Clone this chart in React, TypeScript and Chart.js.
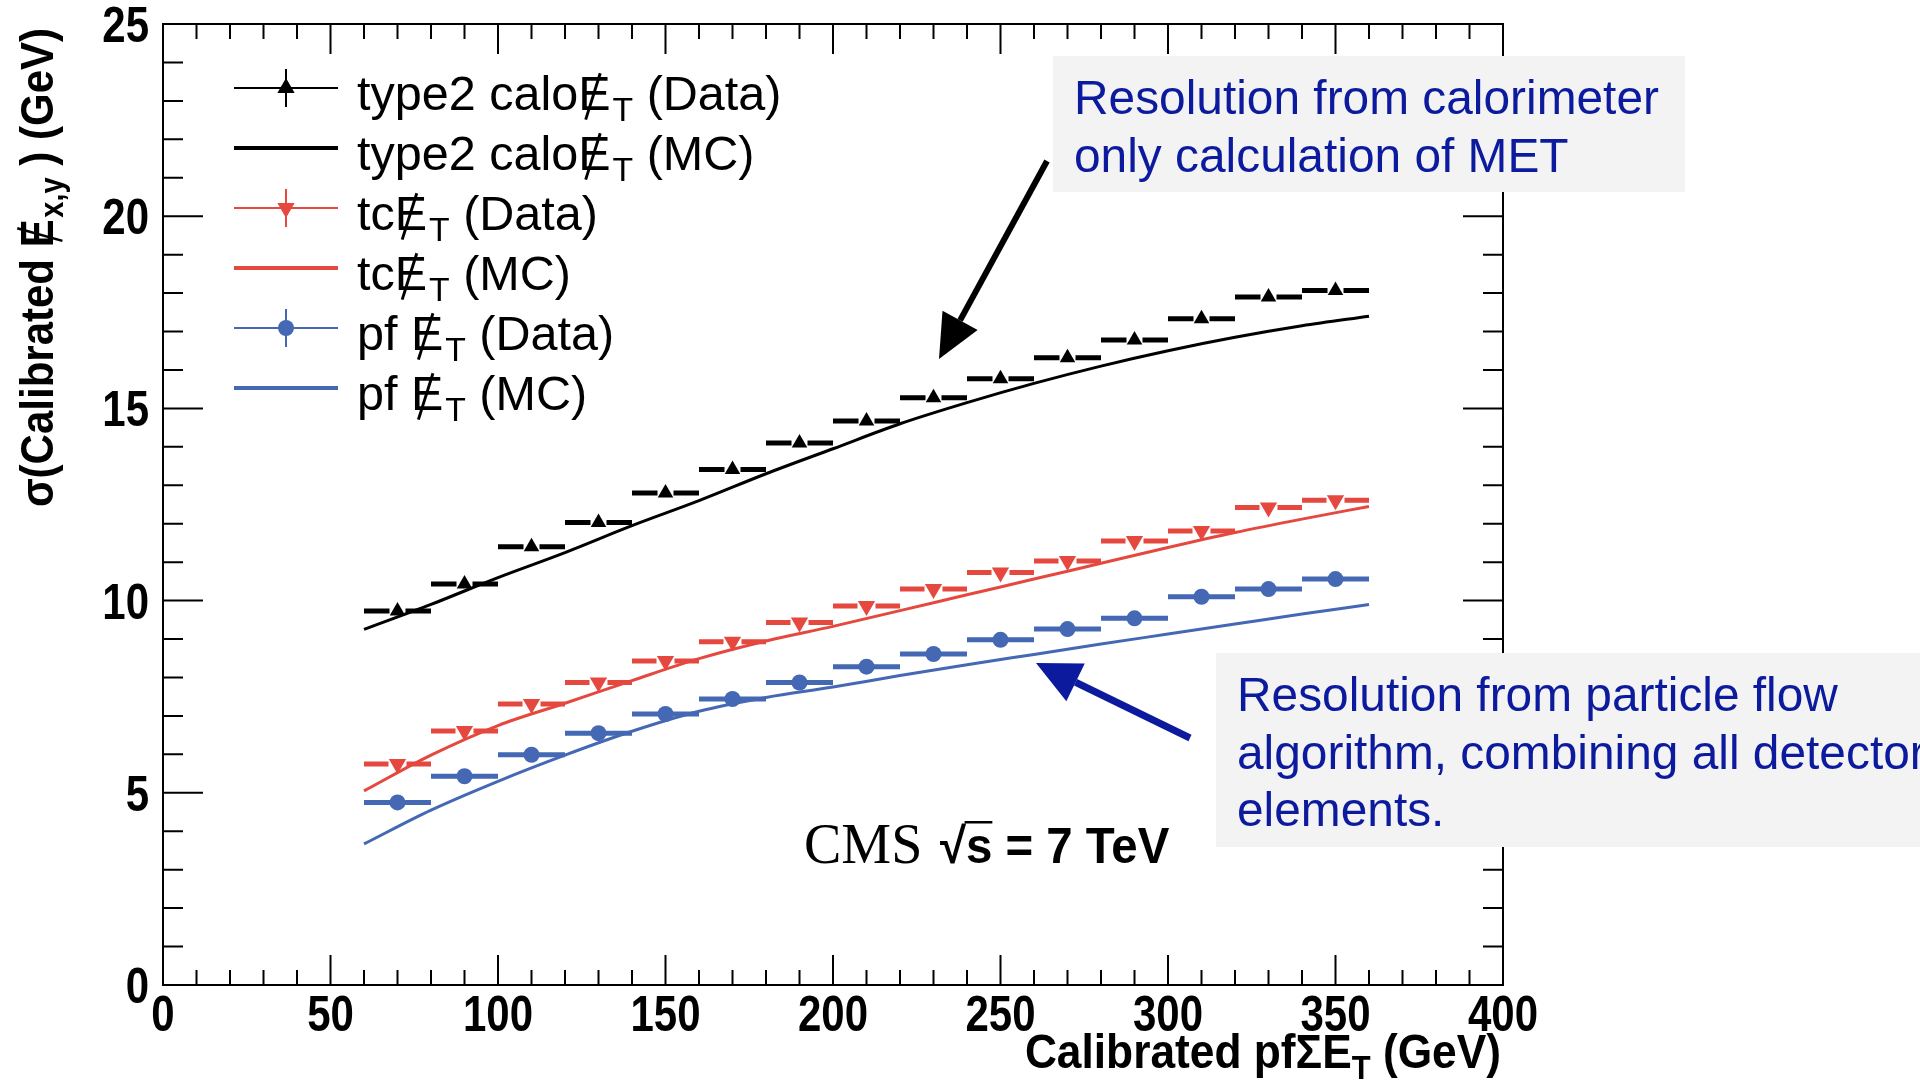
import React, { useEffect, useRef } from "react";
import { Chart, registerables } from "chart.js";

Chart.register(...registerables);

// ---------------- data ----------------
const binCenters = [70, 90, 110, 130, 150, 170, 190, 210, 230, 250, 270, 290, 310, 330, 350];
const binHalfWidth = 10;
const caloData = [9.73, 10.43, 11.4, 12.03, 12.8, 13.41, 14.1, 14.67, 15.28, 15.77, 16.32, 16.78, 17.33, 17.9, 18.07];
const tcData = [5.75, 6.61, 7.31, 7.87, 8.43, 8.93, 9.43, 9.86, 10.3, 10.73, 11.03, 11.55, 11.81, 12.42, 12.61];
const pfData = [4.75, 5.43, 5.99, 6.55, 7.05, 7.44, 7.87, 8.28, 8.61, 8.98, 9.26, 9.54, 10.1, 10.3, 10.56];

const mcX = [60, 80, 100, 120, 140, 160, 180, 200, 220, 240, 260, 280, 300, 320, 340, 360];
const caloMC = [9.25, 9.9, 10.6, 11.25, 11.95, 12.6, 13.3, 13.95, 14.6, 15.15, 15.65, 16.1, 16.5, 16.85, 17.15, 17.4];
const tcMC = [5.05, 5.98, 6.75, 7.33, 7.92, 8.49, 8.95, 9.33, 9.74, 10.15, 10.56, 10.97, 11.38, 11.77, 12.12, 12.45];
const pfMC = [3.67, 4.55, 5.3, 5.98, 6.6, 7.12, 7.48, 7.75, 8.05, 8.33, 8.6, 8.87, 9.13, 9.39, 9.65, 9.9];

const xMin = 0, xMax = 400, yMin = 0, yMax = 25;
const xMajorTicks = [0, 50, 100, 150, 200, 250, 300, 350, 400];
const xMinorStep = 10;
const yMajorTicks = [0, 5, 10, 15, 20, 25];
const yMinorStep = 1;

const annotationTop = ["Resolution from calorimeter", "only calculation of MET"];
const annotationBottom = ["Resolution from particle flow", "algorithm, combining all detector", "elements."];

// ---------------- styles ----------------
const BLACK = "#000000";
const RED = "rgb(229,72,62)";
const BLUE = "rgb(68,104,180)";
const NAVY = "rgb(12,26,158)";
const SANS = "'Liberation Sans', Arial, Helvetica, sans-serif";
const SERIF = "'Liberation Serif', 'Times New Roman', serif";

type Part = { t: string; sub?: boolean; slash?: boolean; over?: boolean };

function drawParts(
  ctx: CanvasRenderingContext2D,
  parts: Part[],
  x: number,
  y: number,
  size: number,
  weight: string,
  color: string,
  align: "left" | "right" | "center" = "left",
  sx = 1,
  sy = 1
) {
  ctx.save();
  ctx.fillStyle = color;
  ctx.strokeStyle = color;
  ctx.textBaseline = "alphabetic";
  ctx.textAlign = "left";
  const fMain = `${weight} ${size}px ${SANS}`;
  const fSub = `${weight} ${Math.round(size * 0.7)}px ${SANS}`;
  const widths = parts.map((p) => {
    ctx.font = p.sub ? fSub : fMain;
    return ctx.measureText(p.t).width + (p.slash ? size * 0.04 : 0);
  });
  const w = widths.reduce((a, b) => a + b, 0);
  ctx.translate(x, y);
  ctx.scale(sx, sy);
  let cx = align === "left" ? 0 : align === "right" ? -w : -w / 2;
  parts.forEach((p, i) => {
    ctx.font = p.sub ? fSub : fMain;
    const dy = p.sub ? size * 0.22 : 0;
    ctx.fillText(p.t, cx, dy);
    if (p.slash) {
      const mid = cx + widths[i] / 2;
      ctx.lineWidth = size * 0.06;
      ctx.beginPath();
      ctx.moveTo(mid - size * 0.2, size * 0.2);
      ctx.lineTo(mid + size * 0.1, -size * 0.76);
      ctx.stroke();
    }
    if (p.over) {
      ctx.lineWidth = size * 0.05;
      ctx.beginPath();
      ctx.moveTo(cx - size * 0.03, -size * 0.82);
      ctx.lineTo(cx + widths[i], -size * 0.82);
      ctx.stroke();
    }
    cx += widths[i];
  });
  ctx.restore();
  return w * sx;
}

function drawMarker(ctx: CanvasRenderingContext2D, kind: string, x: number, y: number, r: number, color: string) {
  ctx.save();
  ctx.fillStyle = color;
  ctx.beginPath();
  if (kind === "circle") {
    ctx.arc(x, y, r, 0, Math.PI * 2);
  } else {
    const s = kind === "down" ? -1 : 1;
    ctx.moveTo(x, y - s * r);
    ctx.lineTo(x + r * 0.866, y + s * r * 0.5);
    ctx.lineTo(x - r * 0.866, y + s * r * 0.5);
    ctx.closePath();
  }
  ctx.fill();
  ctx.restore();
}

function drawArrow(
  ctx: CanvasRenderingContext2D,
  x0: number, y0: number, x1: number, y1: number,
  w: number, headLen: number, headW: number, color: string
) {
  const ang = Math.atan2(y1 - y0, x1 - x0);
  const bx = x1 - headLen * Math.cos(ang);
  const by = y1 - headLen * Math.sin(ang);
  ctx.save();
  ctx.strokeStyle = color;
  ctx.fillStyle = color;
  ctx.lineWidth = w;
  ctx.beginPath();
  ctx.moveTo(x0, y0);
  ctx.lineTo(bx, by);
  ctx.stroke();
  ctx.beginPath();
  ctx.moveTo(x1, y1);
  ctx.lineTo(bx + headW * Math.sin(ang), by - headW * Math.cos(ang));
  ctx.lineTo(bx - headW * Math.sin(ang), by + headW * Math.cos(ang));
  ctx.closePath();
  ctx.fill();
  ctx.restore();
}

const E_T = (prefix: string, suffix: string): Part[] => [
  { t: prefix },
  { t: "E", slash: true },
  { t: "T", sub: true },
  { t: suffix },
];

const legendEntries = [
  { parts: E_T("type2 calo", " (Data)"), color: BLACK, data: true, marker: "up" },
  { parts: E_T("type2 calo", " (MC)"), color: BLACK, data: false, marker: "" },
  { parts: E_T("tc", " (Data)"), color: RED, data: true, marker: "down" },
  { parts: E_T("tc", " (MC)"), color: RED, data: false, marker: "" },
  { parts: E_T("pf ", " (Data)"), color: BLUE, data: true, marker: "circle" },
  { parts: E_T("pf ", " (MC)"), color: BLUE, data: false, marker: "" },
];

const dataSeries = [
  { values: caloData, color: BLACK, gap: 8 },
  { values: tcData, color: RED, gap: 9 },
  { values: pfData, color: BLUE, gap: 7 },
];

function tallText(ctx: CanvasRenderingContext2D, t: string, x: number, y: number, sy: number) {
  ctx.save();
  ctx.translate(x, y);
  ctx.scale(1, sy);
  ctx.fillText(t, 0, 0);
  ctx.restore();
}

const rootPlugin = {
  id: "rootStyle",
  beforeDatasetsDraw(chart: any) {
    const ctx: CanvasRenderingContext2D = chart.ctx;
    const xs = chart.scales.x;
    const ys = chart.scales.y;
    ctx.save();
    ctx.lineCap = "butt";
    dataSeries.forEach((s) => {
      ctx.strokeStyle = s.color;
      ctx.lineWidth = 5;
      binCenters.forEach((c, i) => {
        const y = ys.getPixelForValue(s.values[i]);
        const x0 = xs.getPixelForValue(c - binHalfWidth);
        const x1 = xs.getPixelForValue(c + binHalfWidth);
        const xc = xs.getPixelForValue(c);
        ctx.beginPath();
        ctx.moveTo(x0, y);
        ctx.lineTo(xc - s.gap, y);
        ctx.moveTo(xc + s.gap, y);
        ctx.lineTo(x1, y);
        ctx.stroke();
      });
    });
    ctx.restore();
  },
  afterDraw(chart: any) {
    const ctx: CanvasRenderingContext2D = chart.ctx;
    const xs = chart.scales.x;
    const ys = chart.scales.y;
    const { left, right, top, bottom } = chart.chartArea;
    ctx.save();

    // frame
    ctx.strokeStyle = BLACK;
    ctx.lineWidth = 2;
    ctx.strokeRect(left, top, right - left, bottom - top);

    // x ticks
    ctx.lineWidth = 2;
    for (let v = xMin; v <= xMax; v += xMinorStep) {
      const px = xs.getPixelForValue(v);
      const major = xMajorTicks.includes(v);
      const len = major ? 30 : 15;
      ctx.beginPath();
      ctx.moveTo(px, bottom);
      ctx.lineTo(px, bottom - len);
      ctx.moveTo(px, top);
      ctx.lineTo(px, top + len);
      ctx.stroke();
    }
    // y ticks
    for (let v = yMin; v <= yMax; v += yMinorStep) {
      const py = ys.getPixelForValue(v);
      const major = yMajorTicks.includes(v);
      const len = major ? 40 : 20;
      ctx.beginPath();
      ctx.moveTo(left, py);
      ctx.lineTo(left + len, py);
      ctx.moveTo(right, py);
      ctx.lineTo(right - len, py);
      ctx.stroke();
    }

    // tick labels
    ctx.fillStyle = BLACK;
    ctx.font = `bold 42px ${SANS}`;
    ctx.textBaseline = "alphabetic";
    ctx.textAlign = "center";
    xMajorTicks.forEach((v) => {
      tallText(ctx, String(v), xs.getPixelForValue(v), bottom + 46, 1.18);
    });
    ctx.textAlign = "right";
    yMajorTicks.forEach((v) => {
      tallText(ctx, String(v), left - 14, ys.getPixelForValue(v) + 18, 1.18);
    });

    // axis titles
    drawParts(ctx, [{ t: "Calibrated pfΣE" }, { t: "T", sub: true }, { t: " (GeV)" }], right - 2, bottom + 83, 43, "bold", BLACK, "right", 1.03, 1.12);
    ctx.save();
    ctx.translate(53, 28);
    ctx.rotate(-Math.PI / 2);
    drawParts(ctx, [{ t: "σ(Calibrated " }, { t: "E", slash: true }, { t: "x,y", sub: true }, { t: " ) (GeV)" }], 0, 0, 42, "bold", BLACK, "right", 1, 1.12);
    ctx.restore();

    // legend
    legendEntries.forEach((e, i) => {
      const ry = 88 + 60 * i;
      ctx.save();
      ctx.strokeStyle = e.color;
      ctx.lineWidth = e.data ? 2 : 4;
      ctx.beginPath();
      ctx.moveTo(234, ry);
      ctx.lineTo(338, ry);
      ctx.stroke();
      if (e.data) {
        ctx.beginPath();
        ctx.moveTo(286, ry - 19);
        ctx.lineTo(286, ry + 19);
        ctx.stroke();
        drawMarker(ctx, e.marker, 286, ry, e.marker === "circle" ? 8 : 10, e.color);
      }
      ctx.restore();
      drawParts(ctx, e.parts, 357, ry + 22, 46, "normal", BLACK, "left", 1.055, 1.05);
    });

    // CMS label
    ctx.fillStyle = BLACK;
    ctx.font = `56px ${SERIF}`;
    ctx.textAlign = "left";
    ctx.fillText("CMS", 804, 863);
    drawParts(ctx, [{ t: "√" }, { t: "s", over: true }, { t: " = 7 TeV" }], 940, 863, 46, "bold", BLACK, "left", 1.03, 1.08);

    // arrows
    drawArrow(ctx, 1047, 161, 939, 359, 6, 44, 20, BLACK);
    drawArrow(ctx, 1190, 738, 1036, 663, 7, 44, 21, NAVY);

    // annotation boxes
    ctx.fillStyle = "#f3f3f3";
    ctx.fillRect(1053, 56, 632, 136);
    ctx.fillRect(1216, 653, 704, 194);
    annotationTop.forEach((line, i) => {
      drawParts(ctx, [{ t: line }], 1074, 114 + 58 * i, 46, "normal", NAVY, "left", 1.04, 1.04);
    });
    annotationBottom.forEach((line, i) => {
      drawParts(ctx, [{ t: line }], 1237, 711 + 57.5 * i, 46, "normal", NAVY, "left", 1.04, 1.04);
    });

    ctx.restore();
  },
};

export default function App() {
  const canvasRef = useRef<HTMLCanvasElement | null>(null);

  useEffect(() => {
    document.body.style.margin = "0";
    document.body.style.background = "#ffffff";
    const canvas = canvasRef.current;
    if (!canvas) return;
    const pts = (xs: number[], ys: number[]) => xs.map((x, i) => ({ x, y: ys[i] }));

    const chart = new Chart(canvas, {
      type: "line",
      data: {
        datasets: [
          {
            label: "calo MC",
            data: pts(mcX, caloMC),
            borderColor: BLACK,
            borderWidth: 3,
            pointRadius: 0,
            cubicInterpolationMode: "monotone",
            fill: false,
            order: 5,
          },
          {
            label: "tc MC",
            data: pts(mcX, tcMC),
            borderColor: RED,
            borderWidth: 3,
            pointRadius: 0,
            cubicInterpolationMode: "monotone",
            fill: false,
            order: 5,
          },
          {
            label: "pf MC",
            data: pts(mcX, pfMC),
            borderColor: BLUE,
            borderWidth: 3,
            pointRadius: 0,
            cubicInterpolationMode: "monotone",
            fill: false,
            order: 5,
          },
          {
            label: "calo Data",
            data: pts(binCenters, caloData),
            showLine: false,
            pointStyle: "triangle",
            pointRadius: 9,
            pointBackgroundColor: BLACK,
            pointBorderColor: BLACK,
            pointBorderWidth: 0,
            order: 1,
          },
          {
            label: "tc Data",
            data: pts(binCenters, tcData),
            showLine: false,
            pointStyle: "triangle",
            rotation: 180,
            pointRadius: 10,
            pointBackgroundColor: RED,
            pointBorderColor: RED,
            pointBorderWidth: 0,
            order: 1,
          },
          {
            label: "pf Data",
            data: pts(binCenters, pfData),
            showLine: false,
            pointStyle: "circle",
            pointRadius: 8,
            pointBackgroundColor: BLUE,
            pointBorderColor: BLUE,
            pointBorderWidth: 0,
            order: 1,
          },
        ],
      },
      options: {
        responsive: false,
        animation: false,
        devicePixelRatio: 1,
        layout: { padding: { left: 163, right: 417, top: 24, bottom: 101 } },
        scales: {
          x: { type: "linear", min: xMin, max: xMax, display: false },
          y: { type: "linear", min: yMin, max: yMax, display: false },
        },
        plugins: {
          legend: { display: false },
          tooltip: { enabled: false },
        },
        events: [],
      } as any,
      plugins: [rootPlugin],
    });
    return () => chart.destroy();
  }, []);

  return (
    <canvas
      ref={canvasRef}
      width={1920}
      height={1086}
      style={{ display: "block", width: "1920px", height: "1086px" }}
    />
  );
}
